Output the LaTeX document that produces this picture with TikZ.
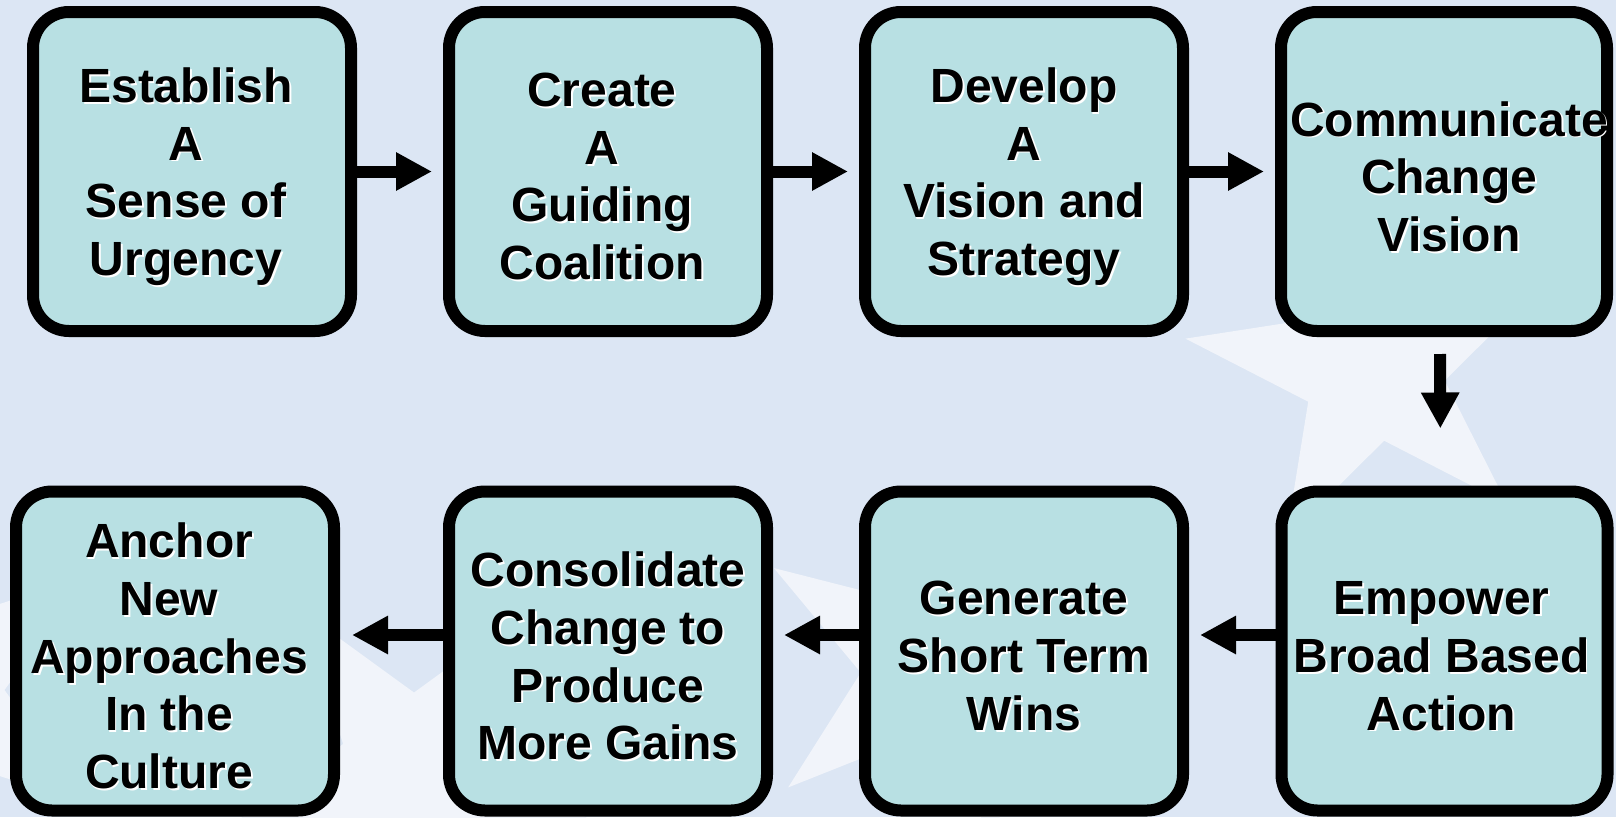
\documentclass[tikz,border=0pt]{standalone}
\usepackage{fontspec}
\setmainfont{Liberation Sans}
\usetikzlibrary{arrows.meta}
\definecolor{slidebg}{HTML}{DCE6F4}
\definecolor{starbg}{HTML}{F1F4FA}
\definecolor{boxfill}{HTML}{B8E0E3}
% white drop shadow behind one line of text
\newcommand\shd[1]{\rlap{\kern1.8pt\raisebox{-1.8pt}{\color{white}#1}}#1}
% faint star of the slide background: centre x, centre y, angle of one tip, radius
\newcommand\bgstar[4]{\fill[starbg,shift={(#1,#2)}] (#3:#4)
  \foreach \k in {0,...,4}{ -- ({#3+72*\k+36}:{0.382*#4}) -- ({#3+72*\k+72}:#4)} -- cycle;}
\tikzset{kotter/.style={draw,line width=12pt,fill=boxfill,rounded corners=36pt,
    minimum width=318pt,minimum height=319pt,inner sep=0pt},
  widebox/.style={minimum width=326pt},
  lbl/.style={align=center,inner sep=0pt,yshift=-6pt,
    font=\fontsize{48pt}{57.7pt}\selectfont\bfseries},
  flow/.style={line width=12pt,-{Triangle[length=36pt,width=36pt]},shorten >=11pt}}

\begin{document}
\begin{tikzpicture}[x=1pt,y=-1pt]
  \useasboundingbox (0,0) rectangle (1616,817);
  \clip (0,0) rectangle (1616,817);
  \fill[slidebg] (0,0) rectangle (1616,817);
  \bgstar{1373}{369}{189.2}{190}
  \bgstar{932}{668}{212.3}{187}
  \bgstar{414}{767}{18}{195}
  \bgstar{-70}{690}{36}{195}

  % top row
  \node[kotter,label={[lbl,xshift=-6pt]center:{\shd{Establish}\\\shd{A}\\\shd{Sense of}\\\shd{Urgency}}}] (s1) at (192,171.5) {};
  \node[kotter,label={[lbl,xshift=-6pt]center:{\shd{Create}\\\shd{A}\\\shd{Guiding}\\\shd{Coalition}}}] (s2) at (608,171.5) {};
  \node[kotter,label={[lbl]center:{\shd{Develop}\\\shd{A}\\\shd{Vision and}\\\shd{Strategy}}}] (s3) at (1024,171.5) {};
  \node[kotter,widebox,label={[lbl,xshift=5pt]center:{\shd{Communicate}\\\shd{Change}\\\shd{Vision}}}] (s4) at (1444,171.5) {};
  % bottom row
  \node[kotter,widebox,label={[lbl,xshift=-3pt]center:{\shd{Empower}\\\shd{Broad Based}\\\shd{Action}}}] (s5) at (1444.5,651) {};
  \node[kotter,label={[lbl]center:{\shd{Generate}\\\shd{Short Term}\\\shd{Wins}}}] (s6) at (1024,651) {};
  \node[kotter,label={[lbl]center:{\shd{Consolidate}\\\shd{Change to}\\\shd{Produce}\\\shd{More Gains}}}] (s7) at (608,651) {};
  \node[kotter,label={[lbl,xshift=-6pt]center:{\shd{Anchor}\\\shd{New}\\\shd{Approaches}\\\shd{In the}\\\shd{Culture}}}] (s8) at (175,651) {};

  \draw[flow] (s1.east) -- (s2.west);
  \draw[flow] (s2.east) -- (s3.west);
  \draw[flow] (s3.east) -- (s4.west);
  \draw[flow,shorten <=17pt,shorten >=57pt] ([xshift=-4pt]s4.south) -- ([xshift=-4pt]s5.north);
  \draw[flow] ([yshift=16pt]s5.west) -- ([yshift=16pt]s6.east);
  \draw[flow] ([yshift=16pt]s6.west) -- ([yshift=16pt]s7.east);
  \draw[flow,shorten >=12pt] ([yshift=16pt]s7.west) -- ([yshift=16pt]s8.east);
\end{tikzpicture}
\end{document}
